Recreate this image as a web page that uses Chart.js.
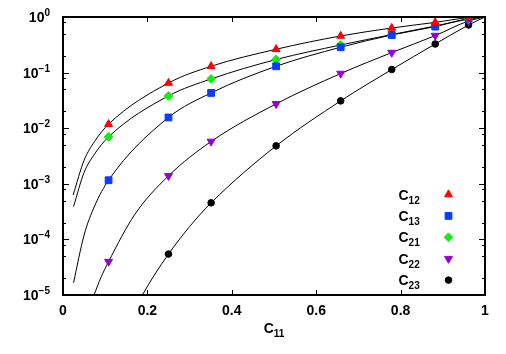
<!DOCTYPE html>
<html>
<head>
<meta charset="utf-8">
<script src="https://cdn.jsdelivr.net/npm/chart.js@4.4.0/dist/chart.umd.min.js"></script>
<style>
  html, body { margin: 0; padding: 0; background: #fff; }
</style>
</head>
<body>
<canvas id="chart" width="506" height="354"></canvas>
<script>
// valores
const xPoints = [0.108, 0.25, 0.351, 0.505, 0.658, 0.779, 0.882, 0.961];
const c12 = [0.0118, 0.065, 0.130, 0.263, 0.456, 0.634, 0.80, 0.975];
const c13 = [0.00116, 0.0156, 0.0431, 0.130, 0.286, 0.475, 0.672, 0.935];
const c21 = [0.00698, 0.0381, 0.0769, 0.172, 0.314, 0.483, 0.689, 0.92];
const c22 = [3.98e-5, 0.00139, 0.00577, 0.0274, 0.0962, 0.229, 0.463, 0.848];
const c23 = [null, 5.45e-5, 4.55e-4, 0.00481, 0.031, 0.1135, 0.327, 0.718];

// curvas de ajuste
const fit12X = [0.024, 0.05, 0.075, 0.108, 0.25, 0.351, 0.505, 0.658, 0.779, 0.882, 0.961, 1];
const fit12Y = [6.3e-4, 2.65e-3, 5.8e-3, 0.0118, 0.065, 0.130, 0.263, 0.456, 0.634, 0.80, 0.975, 1];
const fit21X = [0.025, 0.05, 0.075, 0.108, 0.25, 0.351, 0.505, 0.658, 0.779, 0.882, 0.961, 1];
const fit21Y = [3.9e-4, 1.6e-3, 3.45e-3, 0.00698, 0.0381, 0.0769, 0.172, 0.314, 0.483, 0.689, 0.92, 1];
const fit13X = [0.025, 0.05, 0.075, 0.108, 0.25, 0.351, 0.505, 0.658, 0.779, 0.882, 0.961, 1];
const fit13Y = [1.66e-5, 1.2e-4, 4.0e-4, 0.00116, 0.0156, 0.0431, 0.130, 0.286, 0.475, 0.672, 0.935, 1];
const fit22X = [0.0735, 0.09, 0.108, 0.17, 0.25, 0.351, 0.505, 0.658, 0.779, 0.882, 0.961, 1];
const fit22Y = [1e-5, 2.07e-5, 3.98e-5, 2.8e-4, 0.00139, 0.00577, 0.0274, 0.0962, 0.229, 0.463, 0.848, 1];
const fit23X = [0.188, 0.215, 0.25, 0.3, 0.351, 0.505, 0.658, 0.779, 0.882, 0.961, 1];
const fit23Y = [1e-5, 2.2e-5, 5.45e-5, 1.7e-4, 4.55e-4, 0.00481, 0.031, 0.1135, 0.327, 0.718, 1];

// ejes
const xTicks = [0, 0.2, 0.4, 0.6, 0.8, 1];
const xTickLabels = ['0', '0.2', '0.4', '0.6', '0.8', '1'];
const yTickExps = [0, -1, -2, -3, -4, -5];
const yMinorMult = [2, 5, 8];
const legendSubs = ['12', '13', '21', '22', '23'];

const FONT = "'Liberation Sans', Arial, sans-serif";

const pts = (xs, ys) => xs.map((x, i) => ({ x: x, y: ys[i] })).filter(p => p.y !== null);

function markerSet(label, ys, color, style, radius, rotation) {
    return {
        label: label,
        data: pts(xPoints, ys),
        showLine: false,
        pointStyle: style,
        pointRadius: radius,
        pointRotation: rotation || 0,
        backgroundColor: color,
        borderColor: color,
        pointBorderWidth: 1,
        order: 1
    };
}

function curveSet(xs, ys) {
    return {
        data: pts(xs, ys),
        showLine: true,
        borderColor: '#000',
        borderWidth: 1,
        pointRadius: 0,
        cubicInterpolationMode: 'monotone',
        fill: false,
        order: 2
    };
}

const markers = [
    markerSet('12', c12, '#ff0000', 'triangle', 4.6, 0),
    markerSet('13', c13, '#0a3cff', 'rect', 4.8, 0),
    markerSet('21', c21, '#11ee11', 'rectRot', 4.4, 0),
    markerSet('22', c22, '#9400d3', 'triangle', 4.6, 180),
    markerSet('23', c23, '#000000', 'circle', 3.3, 0)
];

// marco, marcas, etiquetas y leyenda al estilo gnuplot
const framePlugin = {
    id: 'frame',
    afterDatasetsDraw(chart) {
        const { ctx, chartArea: a, scales: { x, y } } = chart;
        ctx.save();
        ctx.strokeStyle = '#000';
        ctx.fillStyle = '#000';

        // marcas
        ctx.lineWidth = 1;
        ctx.beginPath();
        xTicks.forEach(v => {
            const px = Math.round(x.getPixelForValue(v)) + 0.5;
            ctx.moveTo(px, a.bottom); ctx.lineTo(px, a.bottom - 5);
            ctx.moveTo(px, a.top); ctx.lineTo(px, a.top + 5);
        });
        yTickExps.forEach(e => {
            const py = Math.round(y.getPixelForValue(Math.pow(10, e))) + 0.5;
            ctx.moveTo(a.left, py); ctx.lineTo(a.left + 6, py);
            ctx.moveTo(a.right, py); ctx.lineTo(a.right - 6, py);
            if (e < 0) {
                yMinorMult.forEach(m => {
                    const pm = Math.round(y.getPixelForValue(m * Math.pow(10, e))) + 0.5;
                    ctx.moveTo(a.left, pm); ctx.lineTo(a.left + 3, pm);
                    ctx.moveTo(a.right, pm); ctx.lineTo(a.right - 3, pm);
                });
            }
        });
        ctx.stroke();

        // borde
        ctx.lineWidth = 2;
        ctx.strokeRect(a.left, a.top, a.right - a.left, a.bottom - a.top);

        // etiquetas eje x
        ctx.font = 'bold 14px ' + FONT;
        ctx.textAlign = 'center';
        ctx.textBaseline = 'alphabetic';
        xTicks.forEach((v, i) => {
            ctx.fillText(xTickLabels[i], x.getPixelForValue(v), 314.5);
        });

        // etiquetas eje y (10^n)
        const rightX = 50;
        yTickExps.forEach(e => {
            const py = y.getPixelForValue(Math.pow(10, e));
            const exp = String(e).replace('-', '\u2212');
            ctx.font = 'bold 10px ' + FONT;
            const we = ctx.measureText(exp).width;
            ctx.font = 'bold 14px ' + FONT;
            const wb = ctx.measureText('10').width;
            ctx.textAlign = 'left';
            ctx.fillText('10', rightX - we - wb, py + 5);
            ctx.font = 'bold 10px ' + FONT;
            ctx.fillText(exp, rightX - we, py - 1);
        });

        // titulo eje x: C11
        const cx = (a.left + a.right) / 2;
        ctx.font = 'bold 14px ' + FONT;
        const wc = ctx.measureText('C').width;
        ctx.font = 'bold 10px ' + FONT;
        const ws = ctx.measureText('11').width;
        const sx = cx - (wc + ws) / 2;
        ctx.font = 'bold 14px ' + FONT;
        ctx.fillText('C', sx, 333);
        ctx.font = 'bold 10px ' + FONT;
        ctx.fillText('11', sx + wc, 337);

        // leyenda
        markers.forEach((ds, i) => {
            const ry = 194.5 + i * 21.4;
            ctx.fillStyle = '#000';
            ctx.font = 'bold 14px ' + FONT;
            ctx.fillText('C', 398.5, ry + 5);
            const w = ctx.measureText('C').width;
            ctx.font = 'bold 10px ' + FONT;
            ctx.fillText(legendSubs[i], 398.5 + w, ry + 9);
            ctx.fillStyle = ds.backgroundColor;
            ctx.strokeStyle = ds.borderColor;
            ctx.lineWidth = 1;
            Chart.helpers.drawPoint(ctx, {
                pointStyle: ds.pointStyle,
                radius: ds.pointRadius,
                rotation: ds.pointRotation,
                borderWidth: 1
            }, 448.5, ry);
        });
        ctx.restore();
    }
};

new Chart(document.getElementById('chart'), {
    type: 'scatter',
    data: {
        datasets: markers.concat([
            curveSet(fit12X, fit12Y),
            curveSet(fit21X, fit21Y),
            curveSet(fit13X, fit13Y),
            curveSet(fit22X, fit22Y),
            curveSet(fit23X, fit23Y)
        ])
    },
    options: {
        responsive: false,
        animation: false,
        devicePixelRatio: 1,
        layout: { padding: { top: 17, right: 21, left: 0, bottom: 0 } },
        plugins: {
            legend: { display: false },
            tooltip: { enabled: false }
        },
        scales: {
            x: {
                type: 'linear',
                min: 0,
                max: 1,
                grid: { display: false, drawTicks: false },
                border: { display: false },
                ticks: { display: false },
                afterFit: s => { s.height = 59; }
            },
            y: {
                type: 'logarithmic',
                min: 1e-5,
                max: 1,
                grid: { display: false, drawTicks: false },
                border: { display: false },
                ticks: { display: false },
                afterFit: s => { s.width = 63; }
            }
        }
    },
    plugins: [framePlugin]
});
</script>
</body>
</html>
